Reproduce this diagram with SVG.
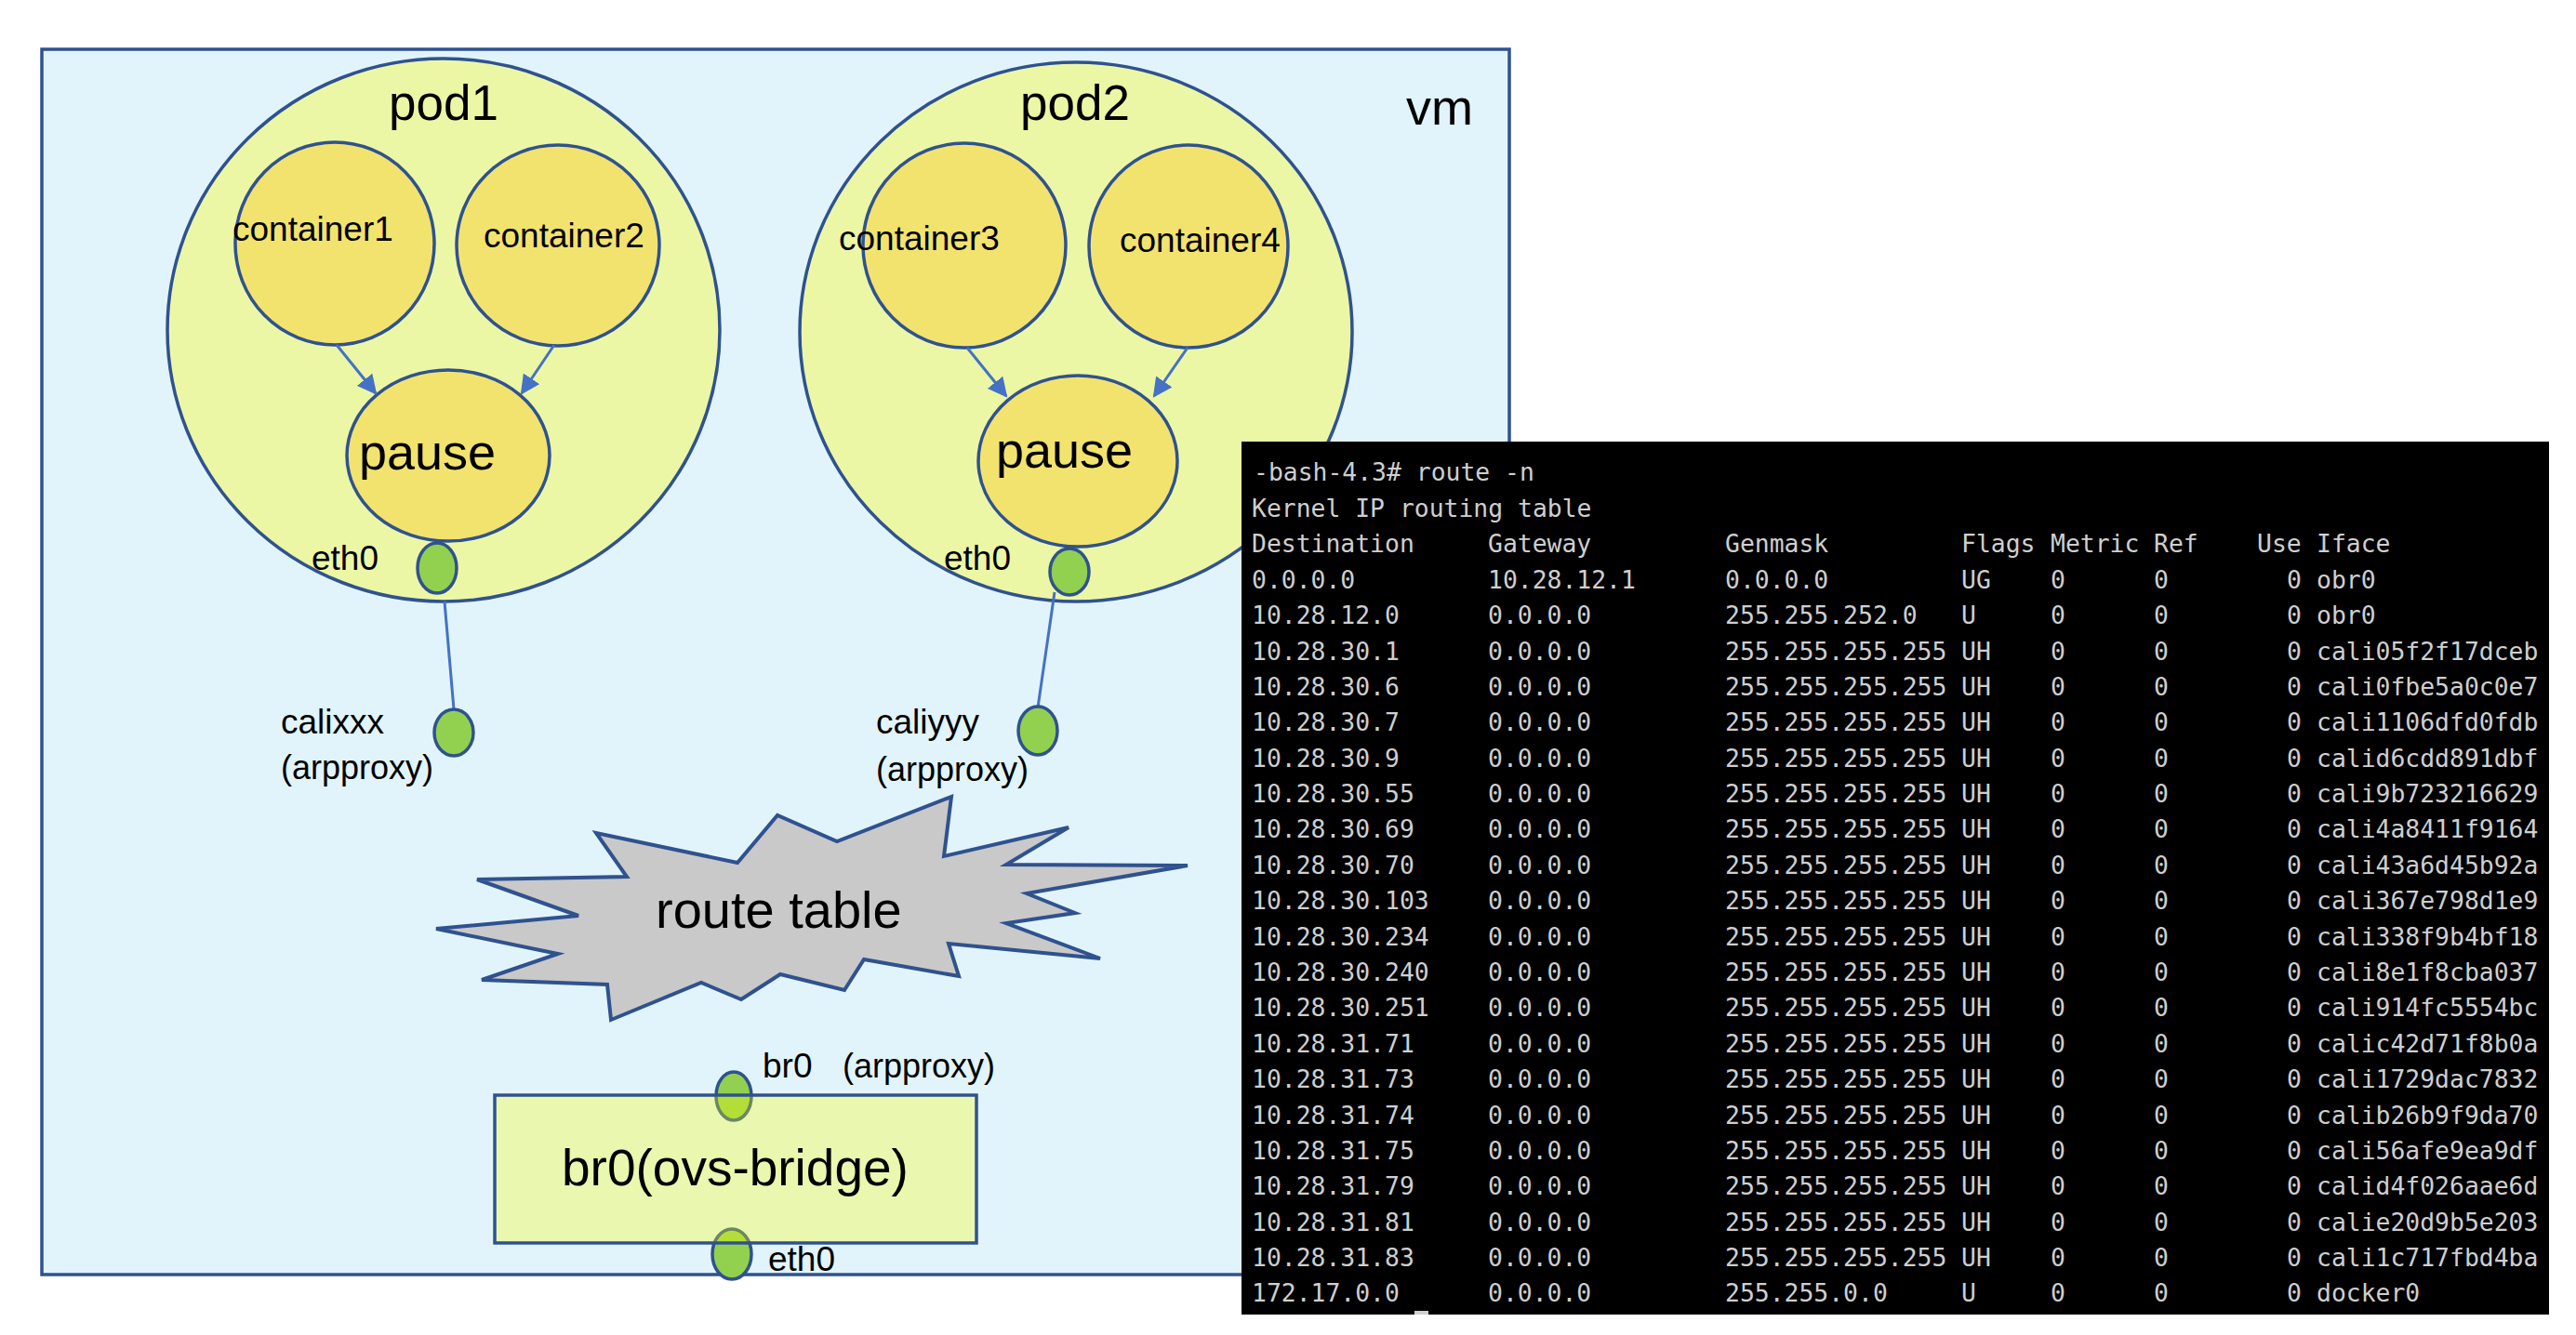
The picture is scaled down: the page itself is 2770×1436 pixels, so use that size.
<svg xmlns="http://www.w3.org/2000/svg" width="2770" height="1436" viewBox="0 0 2770 1436">
<style>
.lbl{font-family:"Liberation Sans",Arial,sans-serif;fill:#000}
.pod{fill:#ecf7a6;stroke:#2f528f;stroke-width:3.5}
.ctr{fill:#f2e36f;stroke:#2f528f;stroke-width:3.5}
.dot{fill:#92d050;stroke:#2f528f;stroke-width:3.5}
.arr{stroke:#4472c4;stroke-width:3;fill:none}
.term{font-family:"DejaVu Sans Mono","Liberation Mono",monospace;font-size:26.4px;fill:#cfcfcf}
</style>
<defs>
<marker id="ah" viewBox="0 0 10 10" refX="9" refY="5" markerWidth="7" markerHeight="7" orient="auto" markerUnits="strokeWidth">
<path d="M0,0 L10,5 L0,10 z" fill="#4472c4"/>
</marker>
</defs>
<rect width="2770" height="1436" fill="#ffffff"/>
<g id="vm">
<rect x="45" y="53" width="1578" height="1318" fill="#e1f4fb" stroke="#2f528f" stroke-width="3.5"/>
<text class="lbl" x="1512" y="134" font-size="54">vm</text>
</g>
<g id="pod1">
<ellipse class="pod" cx="477" cy="355" rx="297" ry="292"/>
<text class="lbl" x="477" y="129" font-size="53" text-anchor="middle">pod1</text>
</g>
<g id="pod2">
<ellipse class="pod" cx="1157" cy="357" rx="297" ry="290"/>
<text class="lbl" x="1156" y="129" font-size="53" text-anchor="middle">pod2</text>
</g>
<g id="container1">
<ellipse class="ctr" cx="360" cy="262" rx="107" ry="109"/>
<text class="lbl" x="250" y="259" font-size="37">container1</text>
</g>
<g id="container2">
<ellipse class="ctr" cx="600" cy="264" rx="109" ry="108"/>
<text class="lbl" x="520" y="266" font-size="37">container2</text>
</g>
<g id="container3">
<ellipse class="ctr" cx="1037" cy="264" rx="109" ry="110"/>
<text class="lbl" x="902" y="269" font-size="37">container3</text>
</g>
<g id="container4">
<ellipse class="ctr" cx="1278" cy="265" rx="107" ry="109"/>
<text class="lbl" x="1204" y="271" font-size="37">container4</text>
</g>
<g id="pause1">
<ellipse class="ctr" cx="482" cy="490" rx="109" ry="92"/>
<text class="lbl" x="386" y="505" font-size="54">pause</text>
</g>
<g id="pause2">
<ellipse class="ctr" cx="1159" cy="496" rx="107" ry="92"/>
<text class="lbl" x="1071" y="503" font-size="54">pause</text>
</g>
<g id="connectors">
<line class="arr" x1="362" y1="371" x2="404" y2="423" marker-end="url(#ah)"/>
<line class="arr" x1="596" y1="371" x2="561" y2="423" marker-end="url(#ah)"/>
<line class="arr" x1="1040" y1="374" x2="1082" y2="426" marker-end="url(#ah)"/>
<line class="arr" x1="1277" y1="374" x2="1241" y2="426" marker-end="url(#ah)"/>
<line class="arr" x1="478" y1="647" x2="488" y2="763"/>
<line class="arr" x1="1134" y1="637" x2="1116" y2="761"/>
</g>
<g id="eth0-pod1">
<ellipse class="dot" cx="470" cy="611" rx="21" ry="27"/>
<text class="lbl" x="335" y="613" font-size="37">eth0</text>
</g>
<g id="eth0-pod2">
<ellipse class="dot" cx="1150" cy="615" rx="21" ry="25"/>
<text class="lbl" x="1015" y="613" font-size="37">eth0</text>
</g>
<g id="calixxx">
<ellipse class="dot" cx="488" cy="788" rx="21" ry="25"/>
<text class="lbl" x="302" y="789" font-size="37">calixxx</text>
<text class="lbl" x="302" y="838" font-size="36">(arpproxy)</text>
</g>
<g id="caliyyy">
<ellipse class="dot" cx="1116" cy="786" rx="21" ry="26"/>
<text class="lbl" x="942" y="789" font-size="37">caliyyy</text>
<text class="lbl" x="942" y="840" font-size="36">(arpproxy)</text>
</g>
<g id="route-table">
<polygon points="1023,857 1015,921 1149,890 1082,930 1277,931 1104,961 1156,982 1082,993 1183,1031 1020,1015 1031,1050 929,1032 908,1065 839,1048 797,1075 754,1057 657,1097 653,1059 518,1054 600,1026 469,999 622,985 513,946 674,943 641,896 793,928 836,877 900,905" fill="#c9c9c9" stroke="#2f528f" stroke-width="4" stroke-linejoin="miter"/>
<text class="lbl" x="705" y="998" font-size="56">route table</text>
</g>
<g id="br0-bridge">
<ellipse class="dot" cx="789" cy="1179" rx="19" ry="26"/>
<ellipse class="dot" cx="787" cy="1349" rx="21" ry="27"/>
<rect x="532" y="1178" width="518" height="159" fill="#ffff00" fill-opacity="0.3" stroke="#2f528f" stroke-width="3.5"/>
<text class="lbl" x="604" y="1275" font-size="55">br0(ovs-bridge)</text>
<text class="lbl" x="820" y="1159" font-size="37">br0</text>
<text class="lbl" x="906" y="1159" font-size="36">(arpproxy)</text>
<text class="lbl" x="826" y="1367" font-size="37">eth0</text>
</g>
<g id="terminal">
<rect x="1335" y="475" width="1406" height="939" fill="#000000"/>
<rect x="1521" y="1410" width="15" height="4" fill="#cfcfcf"/>
<text class="term" x="1348" y="517">-bash-4.3# route -n</text>
<text class="term" x="1346" y="556">Kernel IP routing table</text>
<text class="term" y="594"><tspan x="1346">Destination</tspan><tspan x="1600">Gateway</tspan><tspan x="1855">Genmask</tspan><tspan x="2109">Flags</tspan><tspan x="2205">Metric</tspan><tspan x="2316">Ref</tspan><tspan x="2427">Use</tspan><tspan x="2491">Iface</tspan></text>
<text class="term" y="633"><tspan x="1346">0.0.0.0</tspan><tspan x="1600">10.28.12.1</tspan><tspan x="1855">0.0.0.0</tspan><tspan x="2109">UG</tspan><tspan x="2205">0</tspan><tspan x="2316">0</tspan><tspan x="2459">0</tspan><tspan x="2491">obr0</tspan></text>
<text class="term" y="671"><tspan x="1346">10.28.12.0</tspan><tspan x="1600">0.0.0.0</tspan><tspan x="1855">255.255.252.0</tspan><tspan x="2109">U</tspan><tspan x="2205">0</tspan><tspan x="2316">0</tspan><tspan x="2459">0</tspan><tspan x="2491">obr0</tspan></text>
<text class="term" y="710"><tspan x="1346">10.28.30.1</tspan><tspan x="1600">0.0.0.0</tspan><tspan x="1855">255.255.255.255</tspan><tspan x="2109">UH</tspan><tspan x="2205">0</tspan><tspan x="2316">0</tspan><tspan x="2459">0</tspan><tspan x="2491">cali05f2f17dceb</tspan></text>
<text class="term" y="748"><tspan x="1346">10.28.30.6</tspan><tspan x="1600">0.0.0.0</tspan><tspan x="1855">255.255.255.255</tspan><tspan x="2109">UH</tspan><tspan x="2205">0</tspan><tspan x="2316">0</tspan><tspan x="2459">0</tspan><tspan x="2491">cali0fbe5a0c0e7</tspan></text>
<text class="term" y="786"><tspan x="1346">10.28.30.7</tspan><tspan x="1600">0.0.0.0</tspan><tspan x="1855">255.255.255.255</tspan><tspan x="2109">UH</tspan><tspan x="2205">0</tspan><tspan x="2316">0</tspan><tspan x="2459">0</tspan><tspan x="2491">cali1106dfd0fdb</tspan></text>
<text class="term" y="825"><tspan x="1346">10.28.30.9</tspan><tspan x="1600">0.0.0.0</tspan><tspan x="1855">255.255.255.255</tspan><tspan x="2109">UH</tspan><tspan x="2205">0</tspan><tspan x="2316">0</tspan><tspan x="2459">0</tspan><tspan x="2491">calid6cdd891dbf</tspan></text>
<text class="term" y="863"><tspan x="1346">10.28.30.55</tspan><tspan x="1600">0.0.0.0</tspan><tspan x="1855">255.255.255.255</tspan><tspan x="2109">UH</tspan><tspan x="2205">0</tspan><tspan x="2316">0</tspan><tspan x="2459">0</tspan><tspan x="2491">cali9b723216629</tspan></text>
<text class="term" y="901"><tspan x="1346">10.28.30.69</tspan><tspan x="1600">0.0.0.0</tspan><tspan x="1855">255.255.255.255</tspan><tspan x="2109">UH</tspan><tspan x="2205">0</tspan><tspan x="2316">0</tspan><tspan x="2459">0</tspan><tspan x="2491">cali4a8411f9164</tspan></text>
<text class="term" y="940"><tspan x="1346">10.28.30.70</tspan><tspan x="1600">0.0.0.0</tspan><tspan x="1855">255.255.255.255</tspan><tspan x="2109">UH</tspan><tspan x="2205">0</tspan><tspan x="2316">0</tspan><tspan x="2459">0</tspan><tspan x="2491">cali43a6d45b92a</tspan></text>
<text class="term" y="978"><tspan x="1346">10.28.30.103</tspan><tspan x="1600">0.0.0.0</tspan><tspan x="1855">255.255.255.255</tspan><tspan x="2109">UH</tspan><tspan x="2205">0</tspan><tspan x="2316">0</tspan><tspan x="2459">0</tspan><tspan x="2491">cali367e798d1e9</tspan></text>
<text class="term" y="1017"><tspan x="1346">10.28.30.234</tspan><tspan x="1600">0.0.0.0</tspan><tspan x="1855">255.255.255.255</tspan><tspan x="2109">UH</tspan><tspan x="2205">0</tspan><tspan x="2316">0</tspan><tspan x="2459">0</tspan><tspan x="2491">cali338f9b4bf18</tspan></text>
<text class="term" y="1055"><tspan x="1346">10.28.30.240</tspan><tspan x="1600">0.0.0.0</tspan><tspan x="1855">255.255.255.255</tspan><tspan x="2109">UH</tspan><tspan x="2205">0</tspan><tspan x="2316">0</tspan><tspan x="2459">0</tspan><tspan x="2491">cali8e1f8cba037</tspan></text>
<text class="term" y="1093"><tspan x="1346">10.28.30.251</tspan><tspan x="1600">0.0.0.0</tspan><tspan x="1855">255.255.255.255</tspan><tspan x="2109">UH</tspan><tspan x="2205">0</tspan><tspan x="2316">0</tspan><tspan x="2459">0</tspan><tspan x="2491">cali914fc5554bc</tspan></text>
<text class="term" y="1132"><tspan x="1346">10.28.31.71</tspan><tspan x="1600">0.0.0.0</tspan><tspan x="1855">255.255.255.255</tspan><tspan x="2109">UH</tspan><tspan x="2205">0</tspan><tspan x="2316">0</tspan><tspan x="2459">0</tspan><tspan x="2491">calic42d71f8b0a</tspan></text>
<text class="term" y="1170"><tspan x="1346">10.28.31.73</tspan><tspan x="1600">0.0.0.0</tspan><tspan x="1855">255.255.255.255</tspan><tspan x="2109">UH</tspan><tspan x="2205">0</tspan><tspan x="2316">0</tspan><tspan x="2459">0</tspan><tspan x="2491">cali1729dac7832</tspan></text>
<text class="term" y="1209"><tspan x="1346">10.28.31.74</tspan><tspan x="1600">0.0.0.0</tspan><tspan x="1855">255.255.255.255</tspan><tspan x="2109">UH</tspan><tspan x="2205">0</tspan><tspan x="2316">0</tspan><tspan x="2459">0</tspan><tspan x="2491">calib26b9f9da70</tspan></text>
<text class="term" y="1247"><tspan x="1346">10.28.31.75</tspan><tspan x="1600">0.0.0.0</tspan><tspan x="1855">255.255.255.255</tspan><tspan x="2109">UH</tspan><tspan x="2205">0</tspan><tspan x="2316">0</tspan><tspan x="2459">0</tspan><tspan x="2491">cali56afe9ea9df</tspan></text>
<text class="term" y="1285"><tspan x="1346">10.28.31.79</tspan><tspan x="1600">0.0.0.0</tspan><tspan x="1855">255.255.255.255</tspan><tspan x="2109">UH</tspan><tspan x="2205">0</tspan><tspan x="2316">0</tspan><tspan x="2459">0</tspan><tspan x="2491">calid4f026aae6d</tspan></text>
<text class="term" y="1324"><tspan x="1346">10.28.31.81</tspan><tspan x="1600">0.0.0.0</tspan><tspan x="1855">255.255.255.255</tspan><tspan x="2109">UH</tspan><tspan x="2205">0</tspan><tspan x="2316">0</tspan><tspan x="2459">0</tspan><tspan x="2491">calie20d9b5e203</tspan></text>
<text class="term" y="1362"><tspan x="1346">10.28.31.83</tspan><tspan x="1600">0.0.0.0</tspan><tspan x="1855">255.255.255.255</tspan><tspan x="2109">UH</tspan><tspan x="2205">0</tspan><tspan x="2316">0</tspan><tspan x="2459">0</tspan><tspan x="2491">cali1c717fbd4ba</tspan></text>
<text class="term" y="1400"><tspan x="1346">172.17.0.0</tspan><tspan x="1600">0.0.0.0</tspan><tspan x="1855">255.255.0.0</tspan><tspan x="2109">U</tspan><tspan x="2205">0</tspan><tspan x="2316">0</tspan><tspan x="2459">0</tspan><tspan x="2491">docker0</tspan></text>
</g>
</svg>
